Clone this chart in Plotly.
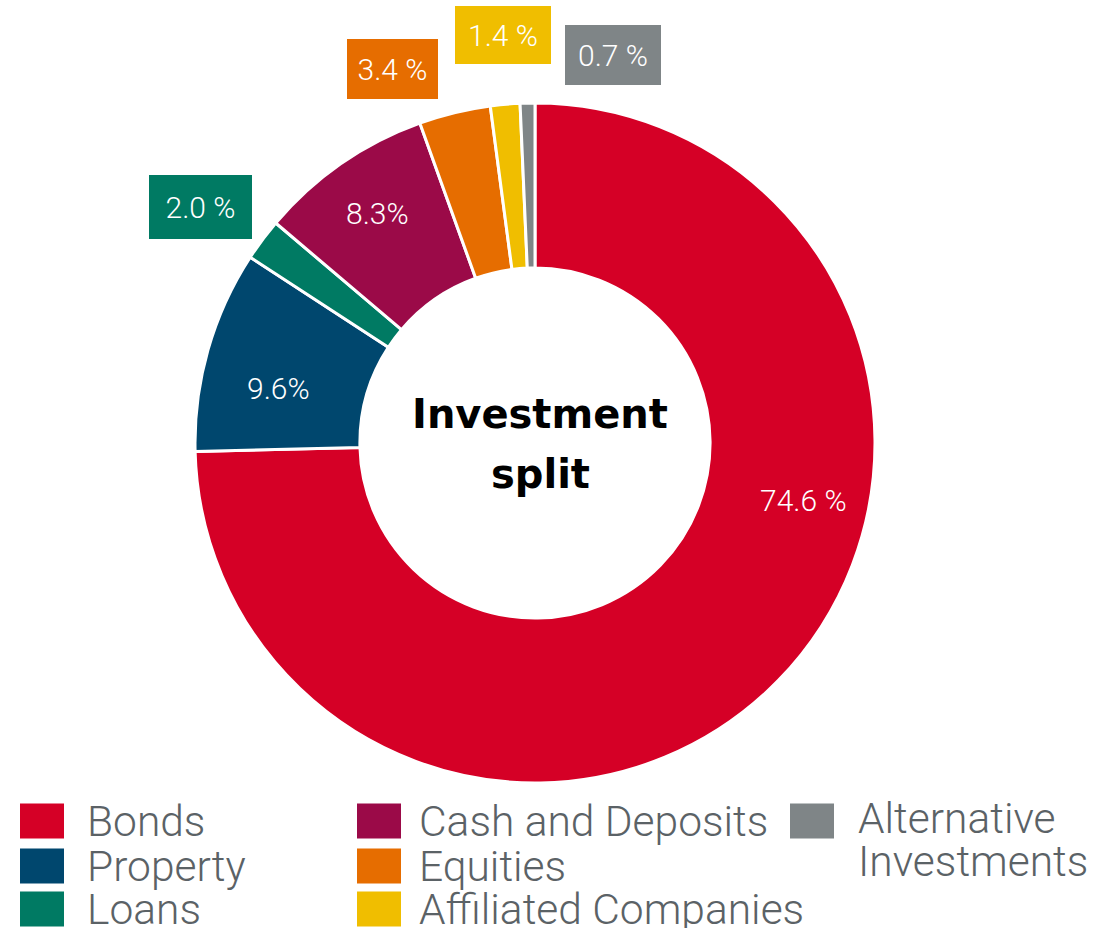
import plotly.graph_objects as go

# Investment split data
categories = ["Bonds", "Property", "Loans", "Cash and Deposits", "Equities",
              "Affiliated Companies", "Alternative Investments"]
shares = [74.6, 9.6, 2.0, 8.3, 3.4, 1.4, 0.7]
pct_sep = [" ", "", " ", "", " ", " ", " "]
colors = ["#D50026", "#00476E", "#007A63", "#9B0A48", "#E66D00", "#F0BE00", "#7F8587"]

W, H = 1112, 928


def px(x):
    return x / W


def py(y):
    return 1 - y / H


# donut geometry (pixels): centre and outer radius
cx, cy, r = 535, 443, 340

fig = go.Figure(go.Pie(
    labels=categories,
    values=shares,
    sort=False,
    direction="clockwise",
    rotation=0,
    hole=0.515,
    marker=dict(colors=colors, line=dict(color="white", width=3)),
    textinfo="none",
    hoverinfo="label+percent",
    showlegend=False,
    domain=dict(x=[px(cx - r), px(cx + r)], y=[py(cy + r), py(cy - r)]),
))

labels = [f"{v:.1f}{s}%" for v, s in zip(shares, pct_sep)]

# label placement: inside (plain white text) or boxed above the ring
label_style = [
    dict(kind="in", x=803, y=501),
    dict(kind="in", x=278, y=388),
    dict(kind="box", x=200.5, y=207, w=103, h=64),
    dict(kind="in", x=377, y=213),
    dict(kind="box", x=392.5, y=69, w=91, h=60),
    dict(kind="box", x=503, y=35, w=96, h=58),
    dict(kind="box", x=613, y=55, w=96, h=60),
]

annotations = []
label_font = dict(family="Roboto", size=30, color="white", weight=300)
for txt, col, st in zip(labels, colors, label_style):
    a = dict(text=txt, xref="paper", yref="paper", x=px(st["x"]), y=py(st["y"]),
             xanchor="center", yanchor="middle", showarrow=False, font=label_font)
    if st["kind"] == "box":
        a.update(bgcolor=col, width=st["w"], height=st["h"], borderpad=0,
                 borderwidth=0, align="center", valign="middle")
    annotations.append(a)

# centre title
title_font = dict(family="DejaVu Sans", size=40, color="black", weight=700)
annotations.append(dict(text="<b>Investment</b>", xref="paper", yref="paper",
                        x=px(540), y=py(414), xanchor="center", yanchor="middle",
                        showarrow=False, font=title_font))
annotations.append(dict(text="<b>split</b>", xref="paper", yref="paper",
                        x=px(540), y=py(474), xanchor="center", yanchor="middle",
                        showarrow=False, font=title_font))

# legend in three columns
legend_slots = [(0, 0), (0, 1), (0, 2), (1, 0), (1, 1), (1, 2), (2, 0)]
sq_x = [20, 357, 790]
txt_x = [85, 417, 856]
row_y = [821, 866, 909]
sq_w, sq_h = 44, 35
legend_font = dict(family="Roboto", size=42.5, color="#5B6266", weight=300)

shapes = []
for name, col, (c, rw) in zip(categories, colors, legend_slots):
    yc = row_y[rw]
    shapes.append(dict(type="rect", xref="paper", yref="paper",
                       x0=px(sq_x[c]), x1=px(sq_x[c] + sq_w),
                       y0=py(yc + sq_h / 2), y1=py(yc - sq_h / 2),
                       fillcolor=col, line=dict(width=0)))
    words = name.split(" ", 1) if c == 2 else [name]
    for i, w in enumerate(words):
        ty = yc - 3 + i * 43 if c == 2 else yc
        annotations.append(dict(text=w, xref="paper", yref="paper",
                                x=px(txt_x[c]), y=py(ty), xanchor="left",
                                yanchor="middle", showarrow=False, font=legend_font))

fig.update_layout(
    width=W, height=H,
    margin=dict(l=0, r=0, t=0, b=0),
    paper_bgcolor="white",
    plot_bgcolor="white",
    annotations=annotations,
    shapes=shapes,
)

fig.write_html("out.html")
